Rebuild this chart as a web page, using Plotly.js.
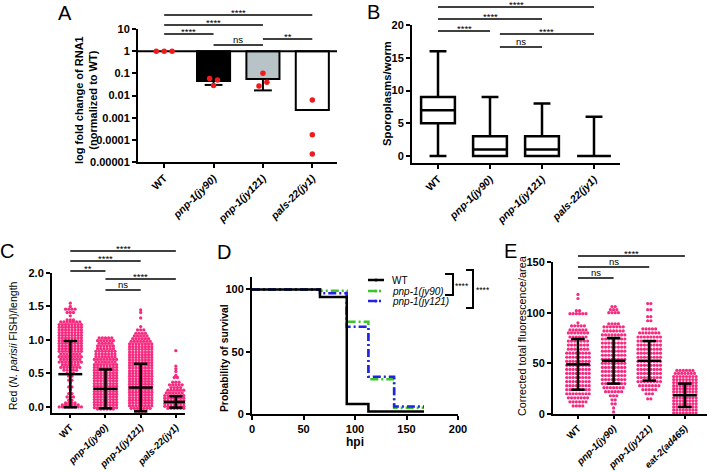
<!DOCTYPE html>
<html><head><meta charset="utf-8">
<script src="https://cdn.plot.ly/plotly-3.0.1.min.js"></script>
<style>html,body{margin:0;padding:0;background:#fff}#chart{width:709px;height:472px}</style>
</head><body><div id="chart"></div>
<script>
// ================= DATA =================
const groupsABC = ['WT', 'pnp-1(jy90)', 'pnp-1(jy121)', 'pals-22(jy1)'];
const groupsE   = ['WT', 'pnp-1(jy90)', 'pnp-1(jy121)', 'eat-2(ad465)'];

// Panel A: log fold change of RNA1
const rnaMean   = [1, 0.045, 0.055, 0.0022];
const rnaLower  = [null, 0.03, 0.017, null];
const rnaPoints = [[1, 1, 1], [0.058, 0.028, 0.05], [0.027, 0.1, 0.04], [0.0063, 0.00017, 0.000023]];
const rnaTickVals = [0.00001, 0.0001, 0.001, 0.01, 0.1, 1, 10];
const rnaTickText = ['0.00001', '0.0001', '0.001', '0.01', '0.1', '1', '10'];
const sigA = [[0, 3, '****'], [0, 2, '****'], [0, 1, '****'], [1, 2, 'ns'], [2, 3, '**']];

// Panel B: sporoplasms/worm (box & whiskers, min to max)
const boxMin = [0, 0, 0, 0];
const boxQ1  = [5, 0, 0, 0];
const boxMed = [7, 1, 1, 0];
const boxQ3  = [9, 3, 3, 0];
const boxMax = [16, 9, 8, 6];
const sigB = [[0, 3, '****'], [0, 2, '****'], [0, 1, '****'], [1, 3, '****'], [1, 2, 'ns']];

// Panel C: Red (N. parisii FISH)/length  — rows of dots (value, number of dots)
const cWT_val = [1.55,1.50,1.46,1.41,1.36,1.30,1.27,1.23,1.19,1.15,1.11,1.07,1.03,0.99,0.95,0.91,0.87,0.83,0.79,0.75,0.71,0.67,0.63,0.59,0.55,0.50,0.46,0.40,0.36,0.30,0.26,0.20,0.15,0.10,0.06,0.03,0.00];
const cWT_n   = [1,1,4,3,1,3,7,8,8,8,8,8,8,8,8,8,8,8,7,8,7,8,6,7,5,3,2,2,1,2,1,2,3,2,4,6,8];
const cJ90_val = [1.03,0.99,0.95,0.91,0.87,0.83,0.79,0.75,0.71,0.67,0.63,0.59,0.55,0.51,0.47,0.43,0.39,0.35,0.31,0.27,0.23,0.19,0.15,0.11,0.07,0.03,-0.01,-0.03];
const cJ90_n   = [5,6,5,6,6,7,7,7,8,7,8,8,8,8,8,8,8,8,8,8,8,8,8,8,8,8,8,6];
const cJ121_val = [1.45,1.41,1.33,1.20,1.15,1.10,1.06,1.02,0.98,0.94,0.90,0.86,0.82,0.78,0.74,0.70,0.66,0.62,0.58,0.54,0.50,0.46,0.42,0.38,0.34,0.30,0.26,0.22,0.18,0.14,0.10,0.06,0.02,-0.02,-0.06];
const cJ121_n   = [1,1,1,1,3,4,5,6,7,8,8,8,8,8,8,8,8,8,8,8,8,8,8,8,8,8,8,8,8,8,8,8,8,7,4];
const cPals_val = [0.84,0.61,0.57,0.53,0.47,0.44,0.37,0.33,0.29,0.25,0.21,0.17,0.13,0.09,0.05,0.01,-0.02];
const cPals_n   = [1,1,1,1,1,2,3,5,4,6,7,8,8,8,8,8,6];
const cMean = [0.49, 0.27, 0.29, 0.075];
const cSD   = [0.495, 0.29, 0.355, 0.085];
const sigC = [[0, 3, '****'], [0, 2, '****'], [0, 1, '**'], [1, 3, '****'], [1, 2, 'ns']];

// Panel D: survival
const survNames = ['WT', 'pnp-1(jy90)', 'pnp-1(jy121)'];
const survT_WT    = [0, 66, 92, 113, 167];
const survS_WT    = [100, 94, 8, 2, 2];
const survT_jy90  = [0, 66, 92, 113, 138, 167];
const survS_jy90  = [100, 99, 74, 28, 5, 5];
const survT_jy121 = [0, 66, 92, 113, 138, 167];
const survS_jy121 = [100, 97, 70, 30, 6, 6];
const survSig = ['****', '****'];

// Panel E: corrected total fluorescence/area — rows of dots
const eWT_val = [118,114,102,99,90,87,83,80,76,72,68,64,60,56,52,48,44,40,36,32,28,24,20,16,12,8];
const eWT_n   = [1,1,2,6,1,5,6,7,6,7,7,7,8,8,8,8,8,8,8,8,8,8,8,7,6,4];
const eJ90_val = [106,103,100,89,86,82,78,74,70,66,62,58,54,50,46,42,38,34,30,26,22,18,14,10,6,2];
const eJ90_n   = [2,3,4,4,7,7,8,8,8,8,8,8,8,8,8,8,8,8,8,7,6,3,2,2,1,1];
const eJ121_val = [109,103,96,92,84,80,76,72,68,64,60,56,52,48,44,40,36,32,28,24,20,15];
const eJ121_n   = [2,2,2,2,5,7,8,8,8,8,8,8,8,8,8,8,8,8,7,5,3,2];
const eEat_val = [43,40,37,34,31,28,25,22,19,16,13,10,7,4,1];
const eEat_n   = [6,7,8,8,8,8,8,8,8,8,8,8,8,8,8];
const eMean = [49, 52.5, 52.5, 18.5];
const eSD   = [25, 22.5, 19.5, 11.5];
const sigE = [[0, 3, '****'], [0, 2, 'ns'], [0, 1, 'ns']];

// ================= STYLE / LAYOUT HELPERS =================
const W = 709, H = 472;
const PX = v => v / W, PY = v => 1 - v / H;
const FONT = 'Liberation Sans, Arial, sans-serif';
const PINK = '#f72a7f', RED = '#ee1c1c';
const barColors = ['#ffffff', '#000000', '#b7c3c7', '#ffffff'];
const survColors = ['#000000', '#3cc42a', '#2222e0'];
const survDash = ['solid', '8px,3px,2px,3px', '8px,3px,2px,3px'];
const ital = l => (l === 'WT' ? l : '<i>' + l + '</i>');

const traces = [];

// ---- Panel A ----
traces.push({type: 'scatter', mode: 'lines', x: [-0.53, 3.5], y: [1, 1], xaxis: 'x', yaxis: 'y',
  line: {color: '#000', width: 2}, hoverinfo: 'skip', cliponaxis: false});
traces.push({type: 'bar', x: [1, 2, 3], y: rnaMean.slice(1).map(v => v - 1), base: 1,
  width: 0.67, xaxis: 'x', yaxis: 'y',
  marker: {color: barColors.slice(1), line: {color: '#000', width: 2}}});
(function () {
  const xs = [], ys = [];
  rnaLower.forEach((lo, i) => {
    if (lo == null) return;
    xs.push(i, i, null, i - 0.18, i + 0.18, null);
    ys.push(rnaMean[i], lo, null, lo, lo, null);
  });
  traces.push({type: 'scatter', mode: 'lines', x: xs, y: ys, xaxis: 'x', yaxis: 'y',
    line: {color: '#000', width: 2}, hoverinfo: 'skip'});
})();
(function () {
  const spread = [0.16, 0.08, 0.08, 0];
  const xs = [], ys = [];
  rnaPoints.forEach((pts, i) => pts.forEach((v, k) => {
    xs.push(i + (k - (pts.length - 1) / 2) * spread[i]); ys.push(v);
  }));
  traces.push({type: 'scatter', mode: 'markers', x: xs, y: ys, xaxis: 'x', yaxis: 'y',
    marker: {color: RED, size: 5.5}, cliponaxis: false});
})();

// ---- Panel B ----
traces.push({type: 'box', x: [0, 1, 2, 3], q1: boxQ1, median: boxMed, q3: boxQ3,
  lowerfence: boxMin, upperfence: boxMax, width: 0.65, whiskerwidth: 0.5,
  boxpoints: false, fillcolor: '#ffffff', line: {color: '#000', width: 2.5},
  xaxis: 'x2', yaxis: 'y2'});

// ---- Dot plots (C, E) ----
function rowsToXY(center, vals, counts, dx, xs, ys) {
  vals.forEach((v, r) => {
    const n = counts[r];
    for (let k = 0; k < n; k++) { xs.push(center + (k - (n - 1) / 2) * dx); ys.push(v); }
  });
}
function meanSD(means, sds, mh, ch) {
  const x = [], y = [];
  means.forEach((m, i) => {
    const s = sds[i];
    x.push(i, i, null, i - mh, i + mh, null, i - ch, i + ch, null, i - ch, i + ch, null);
    y.push(m - s, m + s, null, m, m, null, m - s, m - s, null, m + s, m + s, null);
  });
  return {x, y};
}
(function () {
  const xs = [], ys = [];
  [[cWT_val, cWT_n], [cJ90_val, cJ90_n], [cJ121_val, cJ121_n], [cPals_val, cPals_n]]
    .forEach((g, i) => rowsToXY(i, g[0], g[1], 0.09, xs, ys));
  traces.push({type: 'scatter', mode: 'markers', x: xs, y: ys, xaxis: 'x3', yaxis: 'y3',
    marker: {color: PINK, size: 3.3}, cliponaxis: false});
  const ms = meanSD(cMean, cSD, 0.34, 0.19);
  traces.push({type: 'scatter', mode: 'lines', x: ms.x, y: ms.y, xaxis: 'x3', yaxis: 'y3',
    line: {color: '#000', width: 2.5}, cliponaxis: false});
})();
(function () {
  const xs = [], ys = [];
  [[eWT_val, eWT_n], [eJ90_val, eJ90_n], [eJ121_val, eJ121_n], [eEat_val, eEat_n]]
    .forEach((g, i) => rowsToXY(i, g[0], g[1], 0.09, xs, ys));
  traces.push({type: 'scatter', mode: 'markers', x: xs, y: ys, xaxis: 'x5', yaxis: 'y5',
    marker: {color: PINK, size: 3.2}, cliponaxis: false});
  const ms = meanSD(eMean, eSD, 0.33, 0.19);
  traces.push({type: 'scatter', mode: 'lines', x: ms.x, y: ms.y, xaxis: 'x5', yaxis: 'y5',
    line: {color: '#000', width: 2.5}, cliponaxis: false});
})();

// ---- Panel D ----
const survT = [survT_WT, survT_jy90, survT_jy121];
const survS = [survS_WT, survS_jy90, survS_jy121];
[1, 2, 0].forEach(k => traces.push({type: 'scatter', mode: 'lines', x: survT[k], y: survS[k],
  xaxis: 'x4', yaxis: 'y4', line: {color: survColors[k], width: 2.5, shape: 'hv', dash: survDash[k]},
  name: survNames[k]}));

// ================= LAYOUT =================
const tickFont = {family: FONT, size: 11, color: '#000', weight: 700};
const axBase = {showline: true, linecolor: '#000', linewidth: 2, ticks: 'outside', tickcolor: '#000',
  tickwidth: 2, ticklen: 4, showgrid: false, zeroline: false, fixedrange: true, tickfont: tickFont};
const xCat = (d, r, labels, anchor, fs, tl) => Object.assign({}, axBase, {
  domain: [PX(d[0]), PX(d[1])], range: r, anchor: anchor, ticklen: tl,
  tickvals: labels.map((_, i) => i), ticktext: labels.map(ital), tickangle: -45,
  tickfont: Object.assign({}, tickFont, {size: fs})});

const layout = {
  width: W, height: H, margin: {l: 0, r: 0, t: 0, b: 0},
  paper_bgcolor: '#fff', plot_bgcolor: 'rgba(0,0,0,0)', showlegend: false,
  font: {family: FONT, color: '#000'},
  xaxis: xCat([138, 337], [-0.53, 3.5], groupsABC, 'y', 10.5, 4),
  yaxis: Object.assign({}, axBase, {type: 'log', domain: [PY(162), PY(29)], range: [-5, 1],
    tickvals: rnaTickVals, ticktext: rnaTickText, anchor: 'x'}),
  xaxis2: xCat([412, 620], [-0.5, 3.5], groupsABC, 'y2', 10.5, 4),
  yaxis2: Object.assign({}, axBase, {domain: [PY(163), PY(25)], range: [-1.07, 20], dtick: 5, anchor: 'x2'}),
  xaxis3: xCat([52, 185], [-0.52, 3.26], groupsABC, 'y3', 9.6, 3),
  yaxis3: Object.assign({}, axBase, {domain: [PY(413), PY(273)], range: [-0.09, 2.0],
    tickvals: [0, 0.5, 1, 1.5, 2], tickformat: '.1f', anchor: 'x3'}),
  xaxis4: Object.assign({}, axBase, {domain: [PX(252), PX(458)], range: [0, 200], dtick: 50, anchor: 'y4'}),
  yaxis4: Object.assign({}, axBase, {domain: [PY(414), PY(277)], range: [0, 110], tickvals: [0, 50, 100], anchor: 'x4'}),
  xaxis5: xCat([553, 707], [-0.7, 3.62], groupsE, 'y5', 9.6, 3),
  yaxis5: Object.assign({}, axBase, {domain: [PY(414), PY(262)], range: [0, 150], dtick: 50, anchor: 'x5'}),
  shapes: [], annotations: []
};

// significance lines
function addSig(list, levelsPx, xref, shift) {
  list.forEach((c, n) => {
    const x0 = c[0] + (c[0] > 0 ? shift : 0), x1 = c[1];
    const y = PY(levelsPx[n]);
    layout.shapes.push({type: 'line', xref: xref, yref: 'paper', x0: x0, x1: x1, y0: y, y1: y,
      line: {color: '#000', width: 1.5}});
    layout.annotations.push({xref: xref, yref: 'paper', x: (x0 + x1) / 2, y: y, yanchor: 'bottom',
      text: c[2], showarrow: false, font: {family: FONT, size: 9.5, color: '#000'},
      yshift: c[2].indexOf('*') >= 0 ? -5 : -2});
  });
}
addSig(sigA, [15, 25, 34, 45, 39], 'x', 0);
addSig(sigB, [7, 19, 31, 34, 47], 'x2', 0.19);
addSig(sigC, [251, 261, 271, 279, 290], 'x3', 0);
addSig(sigE, [256, 267, 278], 'x5', 0);

// panel letters
[['A', 65, 13], ['B', 374, 12], ['C', 7, 251], ['D', 224, 252], ['E', 510, 251]].forEach(p =>
  layout.annotations.push({xref: 'paper', yref: 'paper', x: PX(p[1]), y: PY(p[2]), text: p[0],
    showarrow: false, xanchor: 'center', yanchor: 'middle', font: {family: FONT, size: 20, color: '#000'}}));

// axis titles
function vTitle(text, x, y, size, bold) {
  layout.annotations.push({xref: 'paper', yref: 'paper', x: PX(x), y: PY(y), text: text, textangle: -90,
    showarrow: false, xanchor: 'center', yanchor: 'middle',
    font: {family: FONT, size: size, color: '#000', weight: bold ? 700 : 400}});
}
vTitle('log fold change of RNA1<br>(normalized to WT)', 86, 100, 11, true);
vTitle('Sporoplasms/worm', 387, 94, 11.3, true);
vTitle('Red (<i>N. parisii</i> FISH)/length', 13, 346, 10.5, false);
vTitle('Probability of survival', 224, 358, 10.3, true);
vTitle('Corrected total fluorescence/area', 522, 336, 10.8, false);
layout.annotations.push({xref: 'paper', yref: 'paper', x: PX(355), y: PY(442), text: 'hpi', showarrow: false,
  xanchor: 'center', yanchor: 'middle', font: {family: FONT, size: 12, color: '#000', weight: 700}});

// manual legend for D
[280, 291, 301].forEach((yy, k) => {
  layout.shapes.push({type: 'line', xref: 'paper', yref: 'paper', x0: PX(368), x1: PX(384), y0: PY(yy), y1: PY(yy),
    line: {color: survColors[k], width: 2.5, dash: survDash[k]}});
  layout.shapes.push({type: 'circle', xref: 'paper', yref: 'paper', x0: PX(374.5), x1: PX(377.5), y0: PY(yy + 1.5), y1: PY(yy - 1.5),
    fillcolor: survColors[k], line: {width: 0}});
  layout.annotations.push({xref: 'paper', yref: 'paper', x: PX(390), y: PY(yy), text: ital(survNames[k]),
    showarrow: false, xanchor: 'left', yanchor: 'middle', font: {family: FONT, size: 10, color: '#000'}});
});
// brackets
[[445, 453, 274, 295, 462, 286], [466, 473, 270, 308, 483, 290]].forEach((b, k) => {
  layout.shapes.push({type: 'path', xref: 'paper', yref: 'paper',
    path: 'M' + PX(b[0]) + ',' + PY(b[2]) + ' L' + PX(b[1]) + ',' + PY(b[2]) + ' L' + PX(b[1]) + ',' + PY(b[3]) +
      ' L' + PX(b[0]) + ',' + PY(b[3]), line: {color: '#000', width: 2}});
  layout.annotations.push({xref: 'paper', yref: 'paper', x: PX(b[4]), y: PY(b[5]), text: survSig[k],
    showarrow: false, xanchor: 'center', yanchor: 'middle', font: {family: FONT, size: 8.5, color: '#000'}});
});

Plotly.newPlot('chart', traces, layout, {staticPlot: true, displayModeBar: false});
</script></body></html>
